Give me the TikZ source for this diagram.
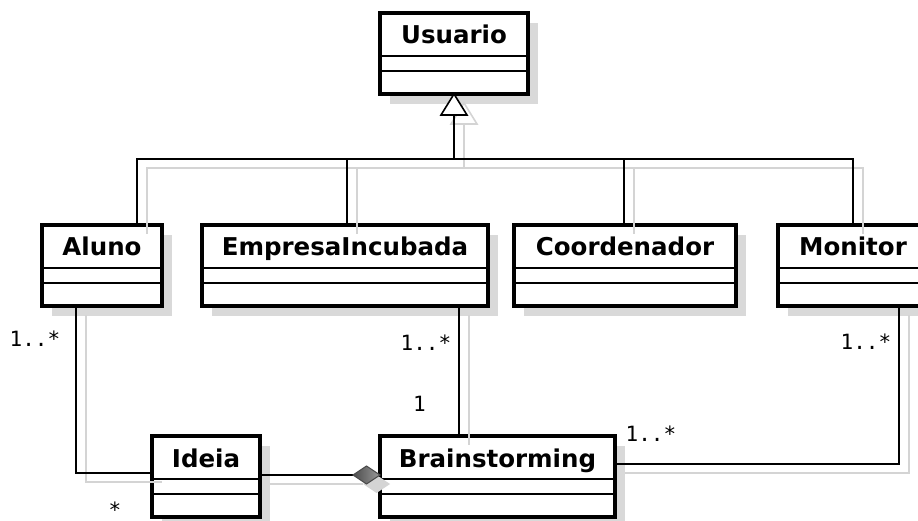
\documentclass[tikz,border=0pt]{standalone}
\usepackage{fontspec}
\newfontfamily\clsfont{DejaVu Sans}
\newfontfamily\lblfont{DejaVu Sans Mono}
\usetikzlibrary{backgrounds}
\definecolor{boxshadow}{HTML}{D9D9D9}
\definecolor{lineshadow}{HTML}{D4D4D4}
\newcommand\UMLclass[5]{% name, cx, top, width, text
  \node[cls, minimum width=#4pt] (#1) at (#2,#3+40.5) {};
  \node[title] (#1-t) at ([shift={(0,31)}]#1.north) {#5};
  \draw[comp] ([shift={(0,43)}]#1.north west) -- ([shift={(0,43)}]#1.north east);
  \draw[comp] ([shift={(0,58)}]#1.north west) -- ([shift={(0,58)}]#1.north east);
}
\newcommand\UMLconns[3]{% line style, triangle style, diamond style
  \draw[#1] (gbase) -- (gjoin);
  \draw[#1] (gjoin) -| (tAluno);
  \draw[#1] (gjoin) -| (tEmpresa);
  \draw[#1] (gjoin) -| (tCoord);
  \draw[#1] (gjoin) -| (tMonitor);
  \draw[#2] (usuario.south) -- (gbl) -- (gbr) -- cycle;
  \draw[#1] (aAluno) |- (aIdeia);
  \draw[#1] (iRight) -- (dL);
  \draw[#3] (dR) -- (dT) -- (dL) -- (dB) -- cycle;
  \draw[#1] (eDown) -- (eDown |- brain.north);
  \draw[#1] (mDown) |- (mBrain);
}
\begin{document}
\begin{tikzpicture}[x=1pt,y=-1pt,
  cls/.style={draw=black, line width=3.2pt, fill=white, inner sep=0pt, outer sep=0pt, minimum height=81pt},
  comp/.style={line width=1.6pt},
  title/.style={font=\clsfont\bfseries\fontsize{24.5}{29}\selectfont, anchor=base, inner sep=0pt},
  mult/.style={font=\lblfont\fontsize{21}{25}\selectfont, anchor=base west, inner sep=0pt},
  conn/.style={line width=1.6pt, draw=black},
  conntri/.style={line width=1.6pt, draw=black, fill=white, line join=miter},
  conndia/.style={line width=1pt, draw=black!70, left color=black!70, right color=black!40},
  shline/.style={line width=1.6pt, draw=lineshadow},
  shtri/.style={line width=1.6pt, draw=lineshadow, fill=white},
  shdia/.style={draw=none, fill=lineshadow},
]
\useasboundingbox (0,0) rectangle (918,521);
\clip (0,0) rectangle (918,521);

\UMLclass{usuario}{454}{13}{148}{Usuario}
\UMLclass{aluno}{102}{225}{120}{Aluno}
\UMLclass{empresa}{345}{225}{286}{EmpresaIncubada}
\UMLclass{coord}{625}{225}{222}{Coordenador}
\UMLclass{monitor}{853}{225}{150}{Monitor}
\UMLclass{ideia}{206}{436}{108}{Ideia}
\UMLclass{brain}{497.5}{436}{235}{Brainstorming}

\begin{scope}[on background layer]
  \foreach \n in {usuario,aluno,empresa,coord,monitor,ideia,brain}
    \fill[boxshadow] ([shift={(10,10)}]\n.north west) rectangle ([shift={(10,10)}]\n.south east);
\end{scope}

% connector points
\coordinate (gbase) at ([shift={(0,21)}]usuario.south);
\coordinate (gbl) at ([shift={(-13,21)}]usuario.south);
\coordinate (gbr) at ([shift={(13,21)}]usuario.south);
\coordinate (gjoin) at ([shift={(0,65)}]usuario.south);
\coordinate (tAluno) at ([shift={(35,0)}]aluno.north);
\coordinate (tEmpresa) at ([shift={(2,0)}]empresa.north);
\coordinate (tCoord) at ([shift={(-1,0)}]coord.north);
\coordinate (tMonitor) at (monitor.north);
\coordinate (aAluno) at ([shift={(34,0)}]aluno.south west);
\coordinate (aIdeia) at ([shift={(0,37)}]ideia.north west);
\coordinate (iRight) at ([shift={(0,39)}]ideia.north east);
\coordinate (dR) at ([shift={(0,39)}]brain.north west);
\coordinate (dL) at ([shift={(-27,0)}]dR);
\coordinate (dT) at ([shift={(-13.5,-9)}]dR);
\coordinate (dB) at ([shift={(-13.5,9)}]dR);
\coordinate (eDown) at ([shift={(257,0)}]empresa.south west);
\coordinate (mDown) at ([shift={(46,0)}]monitor.south);
\coordinate (mBrain) at ([shift={(0,28)}]brain.north east);

\begin{scope}[transform canvas={shift={(10,9)}}]
  \UMLconns{shline}{shtri}{shdia}
\end{scope}
\UMLconns{conn}{conntri}{conndia}

% multiplicities
\node[mult] (m1) at (9.5,346) {1..*};
\node[mult, text depth=0pt] (m2) at (108.5,517) {*};
\node[mult] (m3) at (400.5,350) {1..*};
\node[mult] (m4) at (413,411) {1};
\node[mult] (m5) at (625.5,441) {1..*};
\node[mult] (m6) at (840.5,349) {1..*};
\end{tikzpicture}
\end{document}
